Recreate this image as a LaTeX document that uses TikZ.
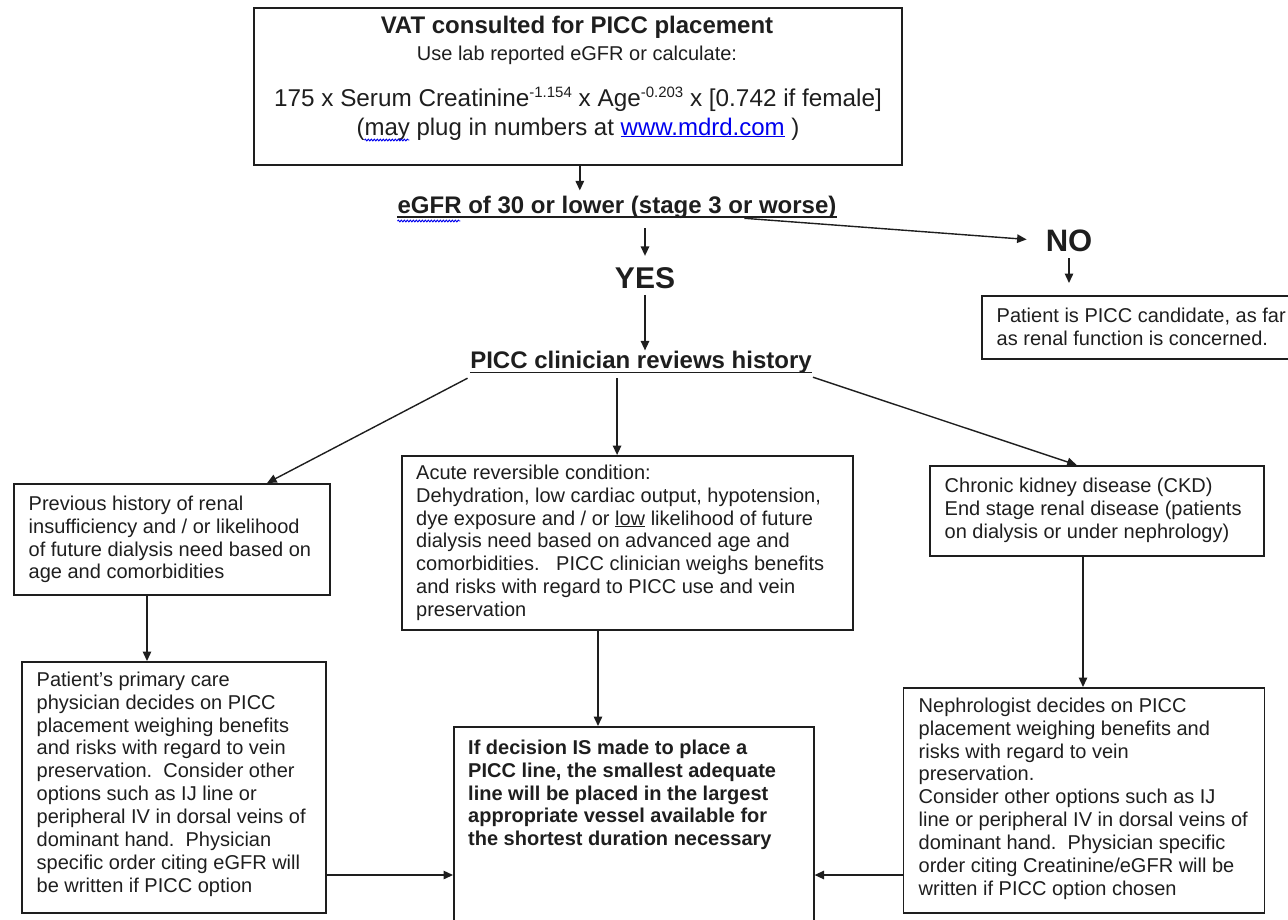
\documentclass[tikz,border=0pt]{standalone}
\usepackage{fontspec}
\setmainfont{Liberation Sans}
\usetikzlibrary{arrows.meta,calc,decorations.pathmorphing}
\definecolor{ink}{HTML}{1E1E1E}
\definecolor{linkblue}{HTML}{0000EE}
\newcommand\supx[1]{\raisebox{9pt}{\fontsize{15}{15}\selectfont #1}}
\begin{document}
\begin{tikzpicture}[x=1pt,y=-1pt,
 box/.style={draw=ink,line width=1.6pt,inner sep=0pt,anchor=north west},
 body/.style={inner sep=0pt,anchor=north west,align=left,text=ink,font=\fontsize{20}{22.9}\selectfont},
 bodyb/.style={body,font=\fontsize{20}{22.9}\selectfont\bfseries},
 lbl/.style={inner sep=0pt,anchor=base,text=ink},
 arr/.style={draw=ink,line width=1.4pt,-{Triangle[length=9.5pt,width=8.5pt]}},
 uline/.style={draw=ink,line width=1.6pt},
 squig/.style={draw=linkblue,line width=0.9pt,decorate,decoration={snake,segment length=3pt,amplitude=0.9pt}},
]
\useasboundingbox (0,0) rectangle (1288,919);

% ---- top box
\node[box,minimum width=648pt,minimum height=157pt] (top) at (253,7) {};
\node[lbl,font=\fontsize{24}{28}\selectfont\bfseries] (title) at (577,33) {VAT consulted for PICC placement};
\node[lbl,font=\fontsize{20}{23}\selectfont] (sub) at (577,60.5) {Use lab reported eGFR or calculate:};
\node[lbl,font=\fontsize{24.3}{28}\selectfont] (formula) at (578,106) {175 x Serum Creatinine\supx{-1.154} x Age\supx{-0.203} x [0.742 if female]};
\node[lbl,font=\fontsize{24}{28}\selectfont] (may) at (578,135) {(may plug in numbers at \textcolor{linkblue}{\underline{www.mdrd.com}} )};
\draw[squig] ($(may.base west)+(8,5)$) -- ++(45,0);

% ---- decision labels
\node[lbl,font=\fontsize{24}{28}\selectfont\bfseries] (egfr) at (617,213) {eGFR of 30 or lower (stage 3 or worse)};
\draw[uline] ($(egfr.base west)+(0,4)$) -- ($(egfr.base east)+(0,4)$);
\draw[squig] ($(egfr.base west)+(0,8)$) -- ++(63,0);

\node[lbl,font=\fontsize{30}{34}\selectfont\bfseries] (yes) at (645,288) {YES};
\node[lbl,font=\fontsize{31}{34}\selectfont\bfseries] (no) at (1069,251.5) {NO};

\node[lbl,font=\fontsize{24}{28}\selectfont\bfseries] (picc) at (641,368) {PICC clinician reviews history};
\draw[uline] ($(picc.base west)+(0,4.5)$) -- ($(picc.base east)+(0,4.5)$);

% ---- NO box
\node[box,minimum width=330pt,minimum height=63pt] (nobox) at (981,295) {};
\node[body] (tno) at (996.5,306) {\strut Patient is PICC candidate, as far\\as renal function is concerned.};

% ---- left branch
\node[box,minimum width=316pt,minimum height=111pt] (left1) at (13,483) {};
\node[body] (tleft1) at (28.5,494) {\strut Previous history of renal\\insufficiency and / or likelihood\\of future dialysis need based on\\age and comorbidities};

\node[box,minimum width=304pt,minimum height=251pt] (left2) at (21,661) {};
\node[body] (tleft2) at (36.5,670) {\strut Patient’s primary care\\physician decides on PICC\\placement weighing benefits\\and risks with regard to vein\\preservation.\ \ Consider other\\options such as IJ line or\\peripheral IV in dorsal veins of\\dominant hand.\ \ Physician\\specific order citing eGFR will\\be written if PICC option};

% ---- middle branch
\node[box,minimum width=451pt,minimum height=174pt] (mid1) at (401,455) {};
\node[body] (tmid1) at (416,463) {\strut Acute reversible condition:\\Dehydration, low cardiac output, hypotension,\\dye exposure and / or \underline{low} likelihood of future\\dialysis need based on advanced age and\\comorbidities.\ \ \ PICC clinician weighs benefits\\and risks with regard to PICC use and vein\\preservation};

\node[box,minimum width=360pt,minimum height=225pt] (bottom) at (453,726) {};
\node[bodyb] (tbottom) at (468,738) {\strut If decision IS made to place a\\PICC line, the smallest adequate\\line will be placed in the largest\\appropriate vessel available for\\the shortest duration necessary};

% ---- right branch
\node[box,minimum width=334pt,minimum height=90pt] (right1) at (929,465) {};
\node[body] (tright1) at (944.5,476) {\strut Chronic kidney disease (CKD)\\End stage renal disease (patients\\on dialysis or under nephrology)};

\node[box,minimum width=361pt,minimum height=225pt] (right2) at (902.5,687) {};
\node[body] (tright2) at (918.5,696) {\strut Nephrologist decides on PICC\\placement weighing benefits and\\risks with regard to vein\\preservation.\\Consider other options such as IJ\\line or peripheral IV in dorsal veins of\\dominant hand.\ \ Physician specific\\order citing Creatinine/eGFR will be\\written if PICC option chosen};

% ---- connectors
\draw[arr,shorten >=5pt] ($(top.south)+(2,0)$) coordinate (c0) -- (c0 |- egfr.north);
\draw[arr,shorten <=10pt,shorten >=11pt] (egfr.south -| yes.north) -- (yes.north);
\draw[arr,shorten >=19pt] ($(egfr.south west)!0.79!(egfr.south east)$) -- (no.west);
\draw[arr,shorten <=6pt,shorten >=12pt] (no.south) -- (no.south |- nobox.north);
\draw[arr,shorten <=6.5pt] (yes.south) -- (yes.south |- picc.north);

\draw[arr] ($(picc.south west)+(-2.5,5)$) -- ($(left1.north west)!0.80!(left1.north east)$);
\draw[arr] ($(picc.south west)+(147,5)$) coordinate (c1) -- (c1 |- mid1.north);
\draw[arr] ($(picc.south east)+(1,4)$) -- ($(right1.north west)!0.44!(right1.north east)$);

\draw[arr] ($(left1.south west)+(134,0)$) coordinate (c2) -- (c2 |- left2.north);
\draw[arr] ($(mid1.south west)+(197,0)$) coordinate (c3) -- (c3 |- bottom.north);
\draw[arr] ($(right1.south west)+(154,0)$) coordinate (c4) -- (c4 |- right2.north);

\draw[arr] ($(left2.north east)+(0,214)$) coordinate (c5) -- (c5 -| bottom.west);
\draw[arr] ($(right2.north west)+(0,188)$) coordinate (c6) -- (c6 -| bottom.east);
\end{tikzpicture}
\end{document}
